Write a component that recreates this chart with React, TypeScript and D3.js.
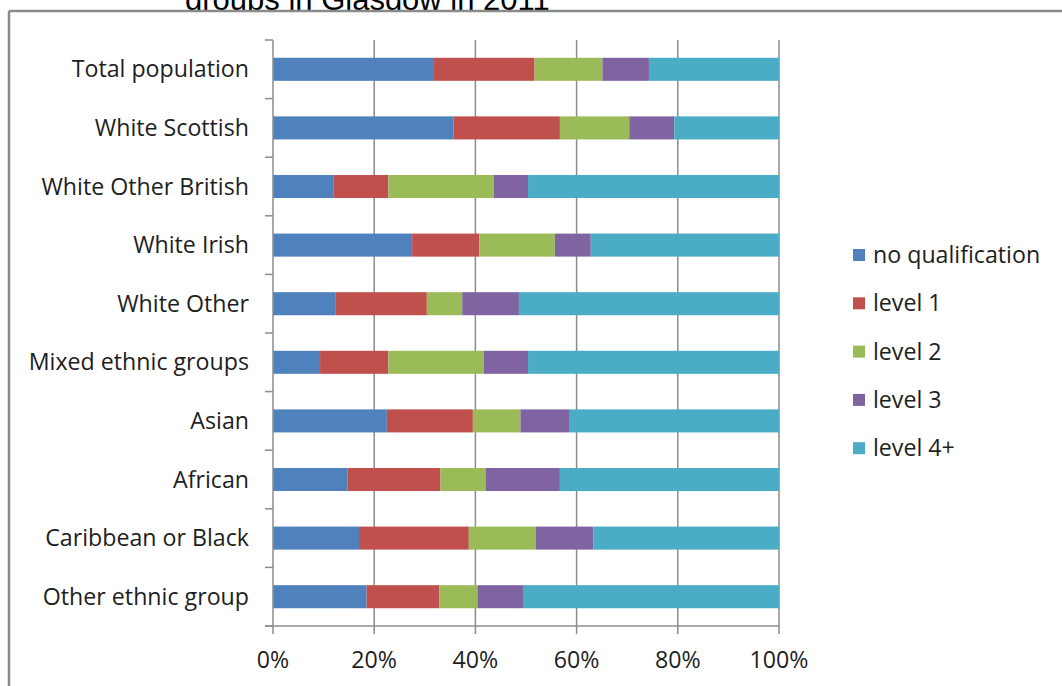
import React, { useEffect } from "react";
import * as d3 from "d3";

const categories = [
  "Total population",
  "White Scottish",
  "White Other British",
  "White Irish",
  "White Other",
  "Mixed ethnic groups",
  "Asian",
  "African",
  "Caribbean or Black",
  "Other ethnic group",
];

const seriesKeys = ["no qualification", "level 1", "level 2", "level 3", "level 4+"];
const seriesColors = ["#4F81BD", "#C0504D", "#9BBB59", "#8064A2", "#4BACC6"];

const noQualification = [31.8, 35.7, 11.9, 27.5, 12.3, 9.3, 22.5, 14.7, 17.0, 18.5];
const level1 = [19.9, 21.0, 10.9, 13.3, 18.1, 13.5, 17.0, 18.4, 21.7, 14.4];
const level2 = [13.4, 13.7, 20.8, 14.9, 7.0, 18.9, 9.4, 8.9, 13.2, 7.5];
const level3 = [9.2, 8.9, 6.8, 7.1, 11.2, 8.7, 9.6, 14.7, 11.4, 9.0];
const level4 = [25.7, 20.7, 49.6, 37.2, 51.4, 49.6, 41.5, 43.3, 36.7, 50.6];

const xTicks = [0, 20, 40, 60, 80, 100];
const titleText = "groups in Glasgow in 2011";

const W = 1062;
const H = 686;
const FONT = "'Open Sans', Lato, sans-serif";
const FS = 23.2;

export default function App() {
  useEffect(() => {
    document.body.style.margin = "0";
  }, []);

  const seriesValues = [noQualification, level1, level2, level3, level4];
  const rows = categories.map((c, i) => {
    const r: any = { category: c };
    seriesKeys.forEach((k, j) => (r[k] = seriesValues[j][i]));
    return r;
  });
  const stacked = d3.stack<any>().keys(seriesKeys).offset(d3.stackOffsetExpand)(rows);

  const x = d3.scaleLinear().domain([0, 1]).range([273, 779]);
  const y = d3
    .scaleBand<string>()
    .domain(categories)
    .range([40, 626])
    .paddingInner(0.607)
    .paddingOuter(0.3035);
  const step = y.step();
  const grid = "#8C8C8C";

  return (
    <svg width={W} height={H} style={{ display: "block", background: "#fff" }}>
      <text x={185} y={9.5} fontFamily="'Liberation Sans', Arial, sans-serif" fontSize={31} fill="#000">
        {titleText}
      </text>
      <rect x={0} y={10} width={W} height={H - 10} fill="#fff" />
      <line x1={9} x2={W} y1={11} y2={11} stroke="#8A8A8A" strokeWidth={2.5} />
      <line x1={9} x2={9} y1={11} y2={H} stroke="#8A8A8A" strokeWidth={2.5} />

      {/* gridlines */}
      {xTicks.slice(1).map((t) => (
        <line key={"g" + t} x1={x(t / 100)} x2={x(t / 100)} y1={40} y2={634} stroke={grid} strokeWidth={1.5} />
      ))}

      {/* bars */}
      {stacked.map((s, j) => (
        <g key={s.key} fill={seriesColors[j]}>
          {s.map((d, i) => (
            <rect
              key={i}
              x={x(d[0])}
              y={y(categories[i])!}
              width={x(d[1]) - x(d[0])}
              height={y.bandwidth()}
            />
          ))}
        </g>
      ))}

      {/* y axis */}
      <line x1={273} x2={273} y1={40} y2={634} stroke={grid} strokeWidth={1.5} />
      {d3.range(categories.length + 1).map((i) => (
        <line key={"yt" + i} x1={265} x2={273} y1={40 + i * step} y2={40 + i * step} stroke={grid} strokeWidth={1.5} />
      ))}
      {/* x axis */}
      <line x1={265} x2={779} y1={626} y2={626} stroke={grid} strokeWidth={1.5} />

      {/* category labels */}
      {categories.map((c) => (
        <text
          key={c}
          x={249}
          y={y(c)! + y.bandwidth() / 2}
          dy="0.35em"
          textAnchor="end"
          fontFamily={FONT}
          fontSize={FS}
          fill="#1e1e1e"
        >
          {c}
        </text>
      ))}

      {/* x tick labels */}
      {xTicks.map((t) => (
        <text
          key={"xl" + t}
          x={x(t / 100)}
          y={668}
          textAnchor="middle"
          fontFamily={FONT}
          fontSize={FS}
          fill="#1e1e1e"
        >
          {t + "%"}
        </text>
      ))}

      {/* legend */}
      {seriesKeys.map((k, j) => {
        const cy = 255 + j * 48.3;
        return (
          <g key={"lg" + k}>
            <rect x={853} y={cy - 6} width={12} height={12} fill={seriesColors[j]} />
            <text x={873} y={cy} dy="0.35em" fontFamily={FONT} fontSize={FS} fill="#1e1e1e">
              {k}
            </text>
          </g>
        );
      })}
    </svg>
  );
}
